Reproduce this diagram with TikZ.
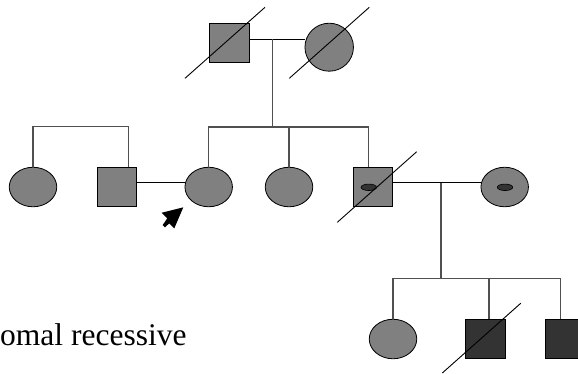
\documentclass[tikz,border=0pt]{standalone}
\usepackage{fontspec}
\setmainfont{Liberation Serif}
\usetikzlibrary{shapes.geometric,calc}
\definecolor{affected}{HTML}{808080}
\definecolor{darkfill}{HTML}{333333}
\definecolor{linkgray}{HTML}{505050}
\tikzset{
  male/.style={rectangle,draw=black,line width=0.8pt,fill=affected,
    minimum width=39.5pt,minimum height=39.5pt,inner sep=0pt},
  female/.style={ellipse,draw=black,line width=0.8pt,fill=affected,
    minimum width=47.5pt,minimum height=39.5pt,inner sep=0pt},
  carrier/.style={ellipse,draw=black,line width=0.6pt,fill=darkfill,
    minimum width=15.5pt,minimum height=6.5pt,inner sep=0pt},
  link/.style={draw=linkgray,line width=1.2pt},
  spouse/.style={draw=black,line width=0.9pt},
  deceased/.style={draw=black,line width=0.9pt},
  pointer/.style={fill=black,draw=none}
}
\begin{document}
\begin{tikzpicture}[x=1pt,y=-1pt]
\useasboundingbox (0,0) rectangle (578,373);

% generation I
\node[male]   (gf) at (229.2,43) {};
\node[female,minimum width=48.5pt,minimum height=48pt] (gm) at (329.2,47.2) {};

% generation II
\node[female] (a1) at (33,187) {};
\node[male]   (a2) at (117,187) {};
\node[female] (pr) at (208.7,187) {};
\node[female] (s2) at (289,187) {};
\node[male]   (s3) at (373,187) {};
\node[carrier] (s3c) at (368.8,187.3) {};
\node[female] (wf) at (504.7,187) {};
\node[carrier] (wfc) at (505,187.3) {};

% generation III
\node[female] (c1) at (393,339) {};
\node[male,fill=darkfill,minimum width=40pt] (c2) at (485,339) {};
\node[male,fill=darkfill,minimum width=40pt] (c3) at (565,339) {};

% mating and sibship lines
\coordinate (m1) at (272.7,39);
\coordinate (b1) at (0,127);
\coordinate (b0) at (0,126.7);
\coordinate (m2) at (441,182.7);
\coordinate (b2) at (0,278.8);

\draw[spouse] (gf.east |- m1) -- (gm.west |- m1);
\draw[link] (m1) -- (m1 |- b1);
\draw[link] (pr.north) -- (pr.north |- b1) -- ([xshift=-4.7pt]s3.north |- b1) -- ([xshift=-4.7pt]s3.north);
\draw[link] (s2.north) -- (s2.north |- b1);

\draw[link] (a1.north) -- (a1.north |- b0) -- ([xshift=11.7pt]a2.north |- b0) -- ([xshift=11.7pt]a2.north);
\draw[spouse] ([yshift=4.3pt]a2.east) -- ([yshift=4.3pt]pr.west);

\draw[spouse] (s3.east |- m2) -- (wf.west |- m2);
\draw[link] (m2) -- (m2 |- b2);
\draw[link] (c1.north) -- (c1.north |- b2) -- ([xshift=-4.3pt]c3.north |- b2) -- ([xshift=-4.3pt]c3.north);
\draw[link] ([xshift=4pt]c2.north) -- ([xshift=4pt]c2.north |- b2);

% deceased marks
\draw[deceased] ($(gf.center)+(-44.2,35.3)$) -- ($(gf.center)+(35.8,-35.7)$);
\draw[deceased] ($(gm.center)+(-39.9,31.1)$) -- ($(gm.center)+(40.1,-39.9)$);
\draw[deceased] ($(s3.center)+(-35.7,35.3)$) -- ($(s3.center)+(43.7,-35.3)$);
\draw[deceased] ($(c2.center)+(-42.7,34)$) -- ($(c2.center)+(35.8,-35.8)$);

% proband pointer
\fill[pointer] ($(pr.center)+(-25.4,20.3)$) -- ++(-21.6,5.4) -- ++(5.6,5.6)
  -- ++(-4.6,6.7) -- ++(2.3,2.3) -- ++(4.3,-4) -- ++(5,5) -- cycle;

% caption text
\node[anchor=base west,inner sep=0pt,font=\fontsize{31.5}{37}\selectfont] (cap) at (0,345) {omal recessive};
\end{tikzpicture}
\end{document}
